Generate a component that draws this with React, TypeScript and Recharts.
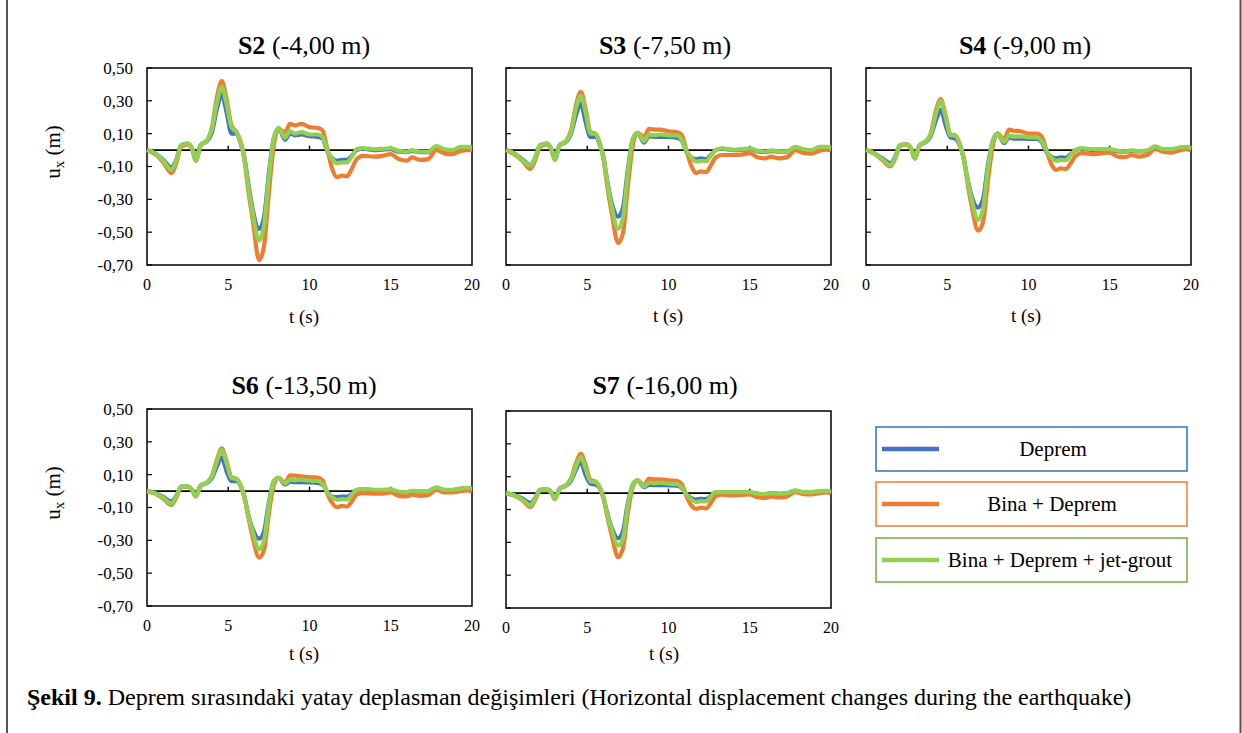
import React from 'react';
import { LineChart, Line, XAxis, YAxis, ReferenceLine, ReferenceArea } from 'recharts';

const FONT = '"Liberation Serif", "Times New Roman", Times, serif';

// ---------- data ----------
const time = [0, 0.5, 1, 1.5, 1.8, 2.1, 2.5, 2.8, 3.0, 3.3, 3.7, 4.0, 4.3, 4.6, 4.9, 5.2, 5.5, 5.8, 6.0, 6.2, 6.5, 6.9, 7.2, 7.5, 7.8, 8.1, 8.5, 8.8, 9.1, 9.5, 10, 10.5, 10.8, 11.1, 11.4, 11.7, 12.0, 12.3, 12.6, 12.9, 13.3, 14, 14.5, 15, 15.5, 16, 16.3, 16.8, 17.3, 17.8, 18.3, 18.8, 19.3, 19.7, 20];

const seriesNames = ['Deprem', 'Bina + Deprem', 'Bina + Deprem + jet-grout'];
const seriesColors = ['#4472C4', '#ED7D31', '#92D050'];
const legendBorders = ['#2E75B6', '#ED7D31', '#70AD47'];

const yTicks = [-0.7, -0.5, -0.3, -0.1, 0.1, 0.3, 0.5];
const xTicks = [0, 5, 10, 15, 20];
const zeroTicks = [5, 10, 15];

const s2Deprem = [0, -0.02, -0.06, -0.105, -0.06, 0.03, 0.04, 0.005, -0.06, 0.03, 0.055, 0.11, 0.25, 0.34, 0.23, 0.10, 0.10, 0.03, -0.05, -0.18, -0.36, -0.48, -0.41, -0.14, 0.07, 0.13, 0.063, 0.10, 0.09, 0.095, 0.085, 0.08, 0.07, -0.01, -0.05, -0.065, -0.06, -0.06, -0.035, 0.0, 0.008, 0.0, 0.003, 0.005, -0.01, -0.012, -0.005, -0.012, -0.012, 0.02, 0.0, -0.003, 0.015, 0.015, 0.01];
const s2Bina = [0, -0.025, -0.075, -0.14, -0.08, 0.02, 0.035, 0.0, -0.065, 0.03, 0.06, 0.14, 0.32, 0.42, 0.31, 0.15, 0.11, 0.035, -0.06, -0.22, -0.42, -0.67, -0.585, -0.26, 0.025, 0.13, 0.11, 0.16, 0.15, 0.16, 0.14, 0.135, 0.12, 0.005, -0.115, -0.165, -0.155, -0.16, -0.115, -0.055, -0.035, -0.04, -0.035, -0.025, -0.055, -0.065, -0.045, -0.06, -0.055, 0.0, -0.02, -0.025, -0.005, 0.0, 0.0];
const s2Jet = [0, -0.02, -0.065, -0.12, -0.065, 0.03, 0.04, 0.005, -0.065, 0.03, 0.06, 0.13, 0.29, 0.385, 0.28, 0.14, 0.11, 0.035, -0.055, -0.2, -0.38, -0.55, -0.46, -0.16, 0.07, 0.135, 0.075, 0.115, 0.10, 0.11, 0.095, 0.095, 0.08, -0.005, -0.055, -0.08, -0.075, -0.075, -0.04, 0.005, 0.012, 0.005, 0.008, 0.012, -0.005, -0.01, 0.0, -0.01, -0.01, 0.025, 0.005, 0.0, 0.02, 0.02, 0.015];

const s3Deprem = [0, -0.02, -0.055, -0.09, -0.045, 0.03, 0.04, 0.005, -0.055, 0.03, 0.05, 0.10, 0.21, 0.285, 0.17, 0.08, 0.08, 0.025, -0.045, -0.17, -0.32, -0.405, -0.35, -0.115, 0.065, 0.105, 0.045, 0.085, 0.08, 0.08, 0.08, 0.075, 0.06, -0.01, -0.045, -0.055, -0.05, -0.055, -0.03, 0.0, 0.008, 0.0, 0.002, 0.005, -0.008, -0.012, -0.006, -0.01, -0.01, 0.018, 0.002, -0.002, 0.015, 0.015, 0.012];
const s3Bina = [0, -0.025, -0.065, -0.115, -0.06, 0.02, 0.035, 0.0, -0.06, 0.03, 0.055, 0.12, 0.27, 0.355, 0.25, 0.11, 0.10, 0.03, -0.05, -0.2, -0.38, -0.565, -0.505, -0.22, 0.025, 0.105, 0.08, 0.13, 0.125, 0.125, 0.115, 0.11, 0.095, 0.0, -0.095, -0.14, -0.13, -0.135, -0.095, -0.045, -0.03, -0.03, -0.028, -0.018, -0.045, -0.05, -0.04, -0.05, -0.043, 0.0, -0.018, -0.022, -0.004, 0.002, 0.0];
const s3Jet = [0, -0.02, -0.06, -0.095, -0.045, 0.03, 0.04, 0.005, -0.06, 0.03, 0.055, 0.11, 0.25, 0.33, 0.23, 0.10, 0.10, 0.03, -0.045, -0.18, -0.34, -0.48, -0.41, -0.135, 0.065, 0.105, 0.055, 0.095, 0.09, 0.095, 0.09, 0.09, 0.065, -0.004, -0.045, -0.07, -0.065, -0.068, -0.035, 0.0, 0.01, 0.002, 0.006, 0.01, -0.004, -0.01, -0.002, -0.008, -0.008, 0.02, 0.005, 0.0, 0.02, 0.02, 0.015];

const s4Deprem = [0, -0.02, -0.05, -0.08, -0.04, 0.03, 0.035, 0.005, -0.05, 0.03, 0.05, 0.09, 0.18, 0.245, 0.15, 0.078, 0.07, 0.02, -0.045, -0.15, -0.28, -0.35, -0.30, -0.095, 0.055, 0.1, 0.043, 0.078, 0.07, 0.07, 0.068, 0.068, 0.05, -0.01, -0.04, -0.05, -0.045, -0.047, -0.025, 0.0, 0.008, 0.0, 0.0, 0.0, -0.008, -0.01, -0.005, -0.008, -0.006, 0.02, 0.0, 0.0, 0.014, 0.018, 0.01];
const s4Bina = [0, -0.02, -0.06, -0.1, -0.05, 0.025, 0.033, 0.002, -0.05, 0.03, 0.055, 0.105, 0.24, 0.31, 0.21, 0.095, 0.09, 0.025, -0.045, -0.17, -0.34, -0.49, -0.44, -0.19, 0.025, 0.1, 0.068, 0.125, 0.118, 0.115, 0.1, 0.1, 0.084, 0.0, -0.085, -0.12, -0.112, -0.115, -0.08, -0.035, -0.018, -0.025, -0.02, -0.015, -0.04, -0.043, -0.03, -0.04, -0.03, 0.006, -0.01, -0.015, -0.002, 0.006, -0.002];
const s4Jet = [0, -0.02, -0.055, -0.092, -0.045, 0.03, 0.035, 0.004, -0.05, 0.03, 0.055, 0.1, 0.22, 0.30, 0.2, 0.09, 0.088, 0.025, -0.045, -0.155, -0.30, -0.425, -0.36, -0.115, 0.055, 0.1, 0.05, 0.088, 0.082, 0.084, 0.078, 0.078, 0.057, -0.004, -0.045, -0.065, -0.06, -0.062, -0.03, 0.002, 0.01, 0.006, 0.006, 0.006, -0.004, -0.008, -0.002, -0.006, -0.002, 0.022, 0.006, 0.006, 0.016, 0.02, 0.012];

const s6Deprem = [0, -0.012, -0.035, -0.063, -0.03, 0.028, 0.028, 0.004, -0.03, 0.033, 0.05, 0.08, 0.15, 0.205, 0.12, 0.06, 0.06, 0.022, -0.037, -0.13, -0.23, -0.29, -0.245, -0.07, 0.06, 0.08, 0.04, 0.057, 0.055, 0.055, 0.053, 0.05, 0.04, -0.006, -0.033, -0.037, -0.033, -0.035, -0.018, 0.006, 0.01, 0.005, 0.005, 0.006, -0.006, -0.008, 0.0, -0.004, -0.001, 0.02, 0.006, 0.006, 0.014, 0.018, 0.012];
const s6Bina = [0, -0.015, -0.045, -0.085, -0.04, 0.025, 0.028, 0.002, -0.033, 0.033, 0.053, 0.095, 0.19, 0.26, 0.18, 0.085, 0.075, 0.025, -0.037, -0.14, -0.28, -0.405, -0.36, -0.135, 0.037, 0.08, 0.053, 0.096, 0.094, 0.09, 0.084, 0.082, 0.065, -0.016, -0.073, -0.098, -0.09, -0.094, -0.063, -0.022, -0.012, -0.016, -0.016, -0.008, -0.029, -0.033, -0.022, -0.029, -0.025, 0.008, -0.008, -0.008, 0.0, 0.004, -0.002];
const s6Jet = [0, -0.013, -0.04, -0.075, -0.033, 0.028, 0.028, 0.004, -0.033, 0.033, 0.053, 0.09, 0.18, 0.25, 0.17, 0.08, 0.073, 0.025, -0.037, -0.135, -0.245, -0.355, -0.30, -0.085, 0.06, 0.08, 0.045, 0.07, 0.065, 0.07, 0.063, 0.062, 0.045, -0.008, -0.037, -0.053, -0.049, -0.051, -0.022, 0.008, 0.012, 0.008, 0.008, 0.01, -0.004, -0.006, 0.002, -0.002, 0.0, 0.022, 0.008, 0.008, 0.016, 0.02, 0.014];

const s7Deprem = [0, -0.012, -0.033, -0.06, -0.03, 0.02, 0.022, 0.004, -0.033, 0.027, 0.045, 0.075, 0.14, 0.19, 0.11, 0.057, 0.053, 0.024, -0.03, -0.11, -0.21, -0.275, -0.23, -0.06, 0.05, 0.077, 0.036, 0.05, 0.049, 0.049, 0.047, 0.045, 0.033, -0.006, -0.03, -0.039, -0.035, -0.037, -0.018, 0.004, 0.006, 0.004, 0.004, 0.005, -0.004, -0.006, 0.0, -0.004, -0.001, 0.014, 0.005, 0.005, 0.01, 0.012, 0.008];
const s7Bina = [0, -0.015, -0.043, -0.085, -0.04, 0.018, 0.02, 0.0, -0.037, 0.027, 0.048, 0.09, 0.18, 0.24, 0.17, 0.08, 0.07, 0.027, -0.03, -0.125, -0.255, -0.39, -0.335, -0.12, 0.037, 0.077, 0.047, 0.088, 0.084, 0.084, 0.078, 0.075, 0.057, -0.018, -0.075, -0.096, -0.088, -0.094, -0.061, -0.02, -0.01, -0.014, -0.012, -0.008, -0.027, -0.03, -0.02, -0.027, -0.02, 0.006, -0.006, -0.008, 0.0, 0.004, -0.002];
const s7Jet = [0, -0.013, -0.038, -0.075, -0.035, 0.02, 0.022, 0.003, -0.035, 0.027, 0.047, 0.082, 0.16, 0.22, 0.15, 0.071, 0.067, 0.027, -0.03, -0.115, -0.22, -0.32, -0.275, -0.075, 0.05, 0.077, 0.04, 0.063, 0.061, 0.063, 0.057, 0.055, 0.037, -0.008, -0.039, -0.055, -0.049, -0.051, -0.022, 0.006, 0.006, 0.006, 0.006, 0.006, -0.004, -0.006, 0.0, -0.004, 0.0, 0.016, 0.006, 0.006, 0.012, 0.014, 0.01];

const panelNames = ['S2', 'S3', 'S4', 'S6', 'S7'];
const panelDepths = ['(-4,00 m)', '(-7,50 m)', '(-9,00 m)', '(-13,50 m)', '(-16,00 m)'];
const panelSeries = [
  [s2Deprem, s2Bina, s2Jet],
  [s3Deprem, s3Bina, s3Jet],
  [s4Deprem, s4Bina, s4Jet],
  [s6Deprem, s6Bina, s6Jet],
  [s7Deprem, s7Bina, s7Jet],
];

const xLabel = 't (s)';
const captionBold = 'Şekil 9.';
const captionText = ' Deprem sırasındaki yatay deplasman değişimleri (Horizontal displacement changes during the earthquake)';

// ---------- layout ----------
const PLOT_W = 325;
const PLOT_H = 197;
const YAXIS_W = 70;
const XAXIS_H = 30;
const M_TOP = 14;
const M_RIGHT = 14;

const layout = [
  { left: 147, top: 68, labels: true, titleX: 304, titleY: 54, xlabX: 304, xlabY: 323 },
  { left: 506, top: 68, labels: false, titleX: 665, titleY: 54, xlabX: 668, xlabY: 322 },
  { left: 866, top: 68, labels: false, titleX: 1025, titleY: 54, xlabX: 1026, xlabY: 322 },
  { left: 147, top: 409, labels: true, titleX: 304, titleY: 394, xlabX: 304, xlabY: 660 },
  { left: 506, top: 411, labels: false, titleX: 665, titleY: 394, xlabX: 664, xlabY: 660 },
];

const fmt = (v: number) => v.toFixed(2).replace('.', ',');

const YTick = (props: any) => {
  const { x, y, payload, showLabel } = props;
  const axisX = x + 14;
  return (
    <g>
      <line x1={axisX} x2={axisX + 5} y1={y} y2={y} stroke="#000" strokeWidth={1.2} />
      {showLabel && (
        <text x={x} y={y} dy="0.35em" textAnchor="end" fontFamily={FONT} fontSize={17} fill="#000">
          {fmt(payload.value)}
        </text>
      )}
    </g>
  );
};

const Panel = ({ idx }: { idx: number }) => {
  const L = layout[idx];
  const [a, b, c] = panelSeries[idx];
  const data = time.map((t, i) => ({ t, a: a[i], b: b[i], c: c[i] }));
  const keys = ['a', 'b', 'c'];
  return (
    <div
      style={{
        position: 'absolute',
        left: L.left - YAXIS_W,
        top: L.top - M_TOP,
        width: YAXIS_W + PLOT_W + M_RIGHT,
        height: M_TOP + PLOT_H + XAXIS_H,
      }}
    >
      <LineChart
        width={YAXIS_W + PLOT_W + M_RIGHT}
        height={M_TOP + PLOT_H + XAXIS_H}
        data={data}
        margin={{ top: M_TOP, right: M_RIGHT, left: 0, bottom: 0 }}
      >
        <XAxis
          dataKey="t"
          type="number"
          domain={[0, 20]}
          ticks={xTicks}
          interval={0}
          axisLine={false}
          tickLine={false}
          tickSize={0}
          tickMargin={14}
          height={XAXIS_H}
          tick={{ fontFamily: FONT, fontSize: 16, fill: '#000' }}
        />
        <YAxis
          type="number"
          domain={[-0.7, 0.5]}
          ticks={yTicks}
          interval={0}
          width={YAXIS_W}
          axisLine={false}
          tickLine={false}
          tickSize={0}
          tickMargin={14}
          tick={(p: any) => <YTick {...p} showLabel={L.labels} />}
        />
        <ReferenceLine y={0} stroke="#000" strokeWidth={1.6} />
        {zeroTicks.map((zt) => (
          <ReferenceLine
            key={zt}
            segment={[{ x: zt, y: 0 }, { x: zt, y: 0.027 }]}
            stroke="#000"
            strokeWidth={1.4}
          />
        ))}
        {keys.map((k, i) => (
          <Line
            key={k}
            type="monotone"
            dataKey={k}
            name={seriesNames[i]}
            stroke={seriesColors[i]}
            strokeWidth={4.2}
            dot={false}
            isAnimationActive={false}
          />
        ))}
        <ReferenceArea x1={0} x2={20} y1={-0.7} y2={0.5} fill="none" fillOpacity={0} stroke="#000" strokeWidth={1.5} strokeOpacity={1} />
      </LineChart>
    </div>
  );
};

const legendBoxes = [
  { y: 427, textX: 1053 },
  { y: 482, textX: 1052 },
  { y: 538, textX: 1060 },
];

export default function App() {
  return (
    <div style={{ position: 'absolute', left: 0, top: 0, width: 1242, height: 733, background: '#fff', overflow: 'hidden' }}>
      {panelNames.map((_, i) => (
        <Panel key={i} idx={i} />
      ))}
      <svg width={1242} height={733} style={{ position: 'absolute', left: 0, top: 0, pointerEvents: 'none' }}>
        <line x1={7} x2={7} y1={0} y2={733} stroke="#555" strokeWidth={2} />
        <line x1={1240.5} x2={1240.5} y1={0} y2={733} stroke="#555" strokeWidth={2} />

        {layout.map((L, i) => (
          <g key={i}>
            <text x={L.titleX} y={L.titleY} textAnchor="middle" fontFamily={FONT} fontSize={26} fill="#000">
              <tspan fontWeight="bold">{panelNames[i]}</tspan>
              <tspan> {panelDepths[i]}</tspan>
            </text>
            <text x={L.xlabX} y={L.xlabY} textAnchor="middle" fontFamily={FONT} fontSize={19} fill="#000">
              {xLabel}
            </text>
          </g>
        ))}

        {[152, 493].map((cy, i) => (
          <text
            key={i}
            x={60}
            y={cy}
            transform={`rotate(-90, 60, ${cy})`}
            textAnchor="middle"
            fontFamily={FONT}
            fontSize={21}
            fill="#000"
          >
            <tspan>u</tspan>
            <tspan dy={4} fontSize={15}>x</tspan>
            <tspan dy={-4}> (m)</tspan>
          </text>
        ))}

        {legendBoxes.map((B, i) => (
          <g key={i}>
            <rect x={876} y={B.y} width={311} height={44} fill="#fff" stroke={legendBorders[i]} strokeWidth={1.5} />
            <line x1={882} x2={939} y1={B.y + 22} y2={B.y + 22} stroke={seriesColors[i]} strokeWidth={4.5} />
            <text x={B.textX} y={B.y + 29} textAnchor="middle" fontFamily={FONT} fontSize={21} fill="#000">
              {seriesNames[i]}
            </text>
          </g>
        ))}

        <text x={27} y={705} fontFamily={FONT} fontSize={24} fill="#000">
          <tspan fontWeight="bold">{captionBold}</tspan>
          <tspan>{captionText}</tspan>
        </text>
      </svg>
    </div>
  );
}
